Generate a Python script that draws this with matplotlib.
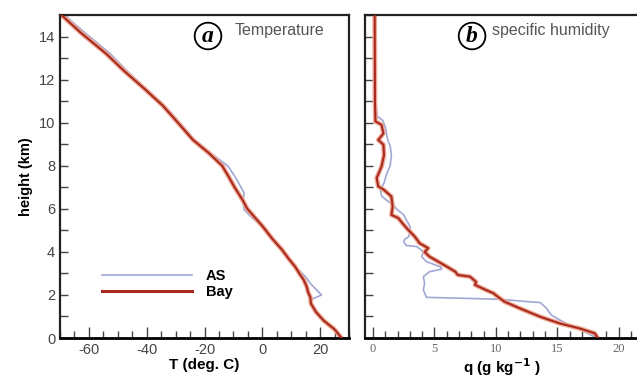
import numpy as np
import matplotlib
matplotlib.use("Agg")
import matplotlib.pyplot as plt
from matplotlib.lines import Line2D
from matplotlib.ticker import MultipleLocator

plt.rcParams['font.family'] = ['Liberation Sans', 'DejaVu Sans']
plt.rcParams['axes.unicode_minus'] = False

# temperature profiles (height km, T deg C)
bay_t_h = [0.0, 0.4, 0.8, 1.2, 1.6, 1.9, 2.1, 2.4, 2.7, 3.0, 3.3, 3.7, 4.1, 4.6, 5.2, 5.6,
           6.0, 6.4, 7.0, 7.5, 8.0, 8.6, 9.2, 10.0, 10.8, 11.6, 12.4, 13.2, 14.2, 15.0]
bay_t = [27.4, 25.0, 21.3, 18.6, 16.8, 16.6, 15.9, 15.3, 14.3, 12.8, 11.4, 9.0, 6.8, 3.5, 0.0, -2.6,
         -5.2, -6.8, -9.6, -11.7, -13.9, -18.6, -24.0, -29.2, -34.5, -41.0, -47.8, -54.0, -63.0, -69.5]

as_t_h = [0.0, 0.4, 0.8, 1.2, 1.5, 1.77, 1.9, 2.0, 2.2, 2.5, 2.85, 3.3, 3.7, 4.1, 4.6, 5.2, 5.6,
          5.95, 6.4, 6.73, 7.0, 7.35, 7.97, 8.6, 9.2, 10.0, 10.8, 11.6, 12.4, 13.2, 14.2, 15.0]
as_t = [27.6, 25.0, 21.0, 18.3, 17.0, 16.6, 18.8, 20.5, 19.0, 16.8, 14.9, 11.6, 9.0, 6.8, 3.4, -0.5, -3.6,
        -6.3, -6.7, -6.3, -7.4, -8.8, -11.8, -17.9, -23.4, -28.5, -33.8, -40.3, -46.8, -52.6, -61.6, -68.5]

# specific humidity profiles (height km, q g/kg)
bay_q_h = [0.0, 0.22, 0.45, 0.68, 0.99, 1.38, 1.69, 1.9, 2.08, 2.23, 2.47, 2.6, 2.85, 2.93, 3.08,
           3.32, 3.55, 3.78, 4.0, 4.17, 4.4, 4.71, 5.1, 5.4, 5.57, 5.72, 6.1, 6.57, 6.9, 7.04,
           7.43, 7.97, 8.5, 8.98, 9.2, 9.5, 9.9, 10.06, 11.0, 13.0, 15.0]
bay_q = [18.3, 18.05, 16.8, 15.2, 13.6, 11.95, 10.7, 10.2, 9.8, 9.2, 8.3, 8.4, 7.9, 6.9, 6.7,
         6.0, 5.3, 4.6, 4.2, 4.5, 3.8, 3.4, 2.74, 2.3, 2.06, 1.5, 1.6, 1.5, 0.85, 0.43,
         0.3, 0.7, 0.9, 0.85, 0.43, 0.85, 0.7, 0.2, 0.16, 0.15, 0.14]

as_q_h = [0.0, 0.3, 0.6, 0.84, 1.07, 1.4, 1.65, 1.68, 1.8, 1.89, 2.23, 2.54, 2.85, 3.08, 3.2,
          3.3, 3.55, 3.78, 3.97, 4.1, 4.25, 4.3, 4.48, 4.6, 4.7, 5.0, 5.2, 5.5, 5.72, 5.95,
          6.2, 6.4, 6.6, 6.9, 7.2, 7.6, 8.0, 8.5, 8.9, 9.2, 9.5, 9.8, 10.1, 10.3, 11.0, 13.0, 15.0]
as_q = [18.2, 17.2, 16.0, 15.2, 14.5, 14.1, 13.6, 12.8, 10.3, 4.35, 4.1, 4.2, 4.1, 4.6, 5.6,
        5.5, 4.35, 3.96, 4.1, 3.9, 3.55, 2.7, 2.5, 2.6, 2.9, 3.05, 3.0, 2.7, 2.5, 2.0,
        1.6, 1.1, 0.7, 0.6, 0.9, 1.1, 1.4, 1.5, 1.4, 1.2, 1.1, 1.0, 0.8, 0.35, 0.2, 0.15, 0.12]

as_color = '#9fa8d4'
bay_core = '#a82a1c'
bay_halo = '#eeaa98'

fig = plt.figure(figsize=(6.37, 3.85), dpi=100)
ax1 = fig.add_axes([0.0942, 0.122, 0.4538, 0.839])
ax2 = fig.add_axes([0.573, 0.122, 0.431, 0.839])


def style(ax):
    for s in ax.spines.values():
        s.set_linewidth(1.6)
        s.set_color('#222222')
    ax.spines['bottom'].set_color('black')
    ax.spines['bottom'].set_linewidth(2)
    ax.tick_params(which='both', direction='in', top=False, right=False, colors='#444444')
    ax.tick_params(axis='x', which='major', length=8, width=1)
    ax.tick_params(axis='x', which='minor', length=5, width=1)
    ax.tick_params(axis='y', which='both', length=6, width=1)
    ax.yaxis.set_major_locator(MultipleLocator(2))
    ax.yaxis.set_minor_locator(MultipleLocator(1))
    ax.set_ylim(0, 15)


def bay_line(ax, x, y):
    ax.plot(x, y, color=bay_halo, lw=3.4, solid_capstyle='round', zorder=2)
    ax.plot(x, y, color=bay_core, lw=1.5, zorder=3)


# panel a: temperature
ax1.plot(as_t, as_t_h, color=as_color, lw=1.2, zorder=1)
bay_line(ax1, bay_t, bay_t_h)
style(ax1)
ax1.set_xlim(-70, 30)
ax1.xaxis.set_major_locator(MultipleLocator(20))
ax1.xaxis.set_minor_locator(MultipleLocator(5))
ax1.tick_params(labelsize=10.5)
ax1.set_xlabel('T (deg. C)', fontsize=11, fontweight='bold', labelpad=1)
ax1.set_ylabel('height (km)', fontsize=10.5, fontweight='bold', labelpad=4)

handles = [Line2D([], [], color=as_color, lw=1.2),
           Line2D([], [], color=bay_core, lw=2.2)]
ax1.legend(handles, ['AS', 'Bay'], loc='lower left', bbox_to_anchor=(0.1, 0.08),
           frameon=False, handlelength=6.2, handletextpad=0.9, labelspacing=0.15,
           prop=dict(weight='bold', size=10.5))

circ = dict(boxstyle='circle,pad=0.12', fc='white', ec='black', lw=1.3)
ax1.text(0.512, 0.935, 'a', transform=ax1.transAxes, ha='center', va='center',
         family='Liberation Serif', style='italic', fontweight='bold', fontsize=17, bbox=circ)
ax1.text(0.603, 0.952, 'Temperature', transform=ax1.transAxes, ha='left', va='center',
         fontsize=11.5, color='#555555')

# panel b: specific humidity
ax2.plot(as_q, as_q_h, color=as_color, lw=1.2, zorder=1)
bay_line(ax2, bay_q, bay_q_h)
style(ax2)
ax2.spines['right'].set_visible(False)
ax2.set_xlim(-0.65, 21.7)
ax2.xaxis.set_major_locator(MultipleLocator(5))
ax2.xaxis.set_minor_locator(MultipleLocator(1))
ax2.tick_params(axis='y', labelleft=False)
ax2.tick_params(axis='x', labelsize=9, labelcolor='#666666')
for lab in ax2.get_xticklabels():
    lab.set_family('Liberation Serif')
ax2.set_xlabel('q (g kg$^{\\mathbf{-1}}$ )', fontsize=11, fontweight='bold', labelpad=1)

ax2.text(0.39, 0.935, 'b', transform=ax2.transAxes, ha='center', va='center',
         family='Liberation Serif', style='italic', fontweight='bold', fontsize=17, bbox=circ)
ax2.text(0.462, 0.952, 'specific humidity', transform=ax2.transAxes, ha='left', va='center',
         fontsize=11.5, color='#555555')

fig.savefig('out.png', dpi=100)
